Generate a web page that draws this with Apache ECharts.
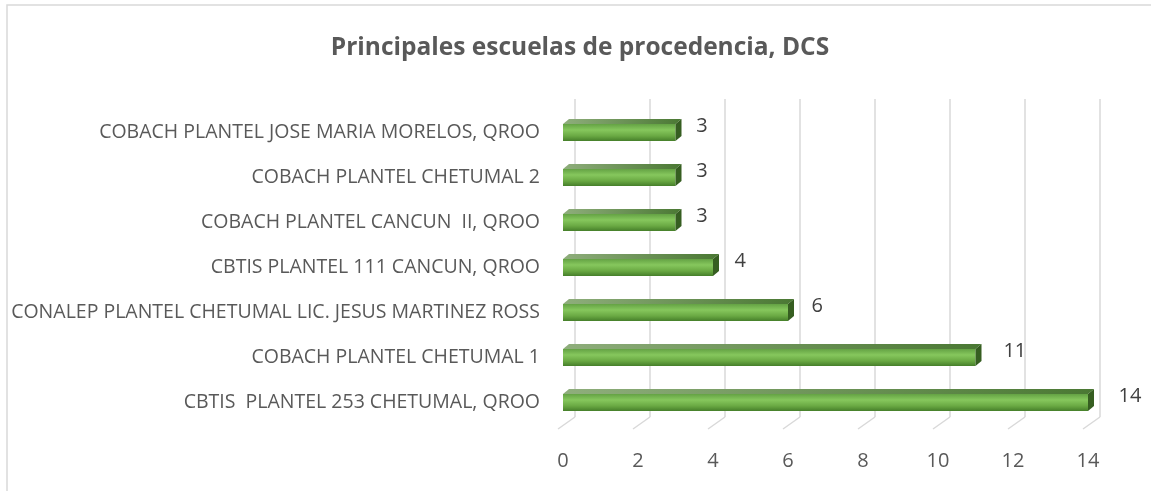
<!DOCTYPE html>
<html>
<head>
<meta charset="utf-8">
<script src="https://cdn.jsdelivr.net/npm/echarts@6/dist/echarts.min.js"></script>
<style>
  html, body { margin: 0; padding: 0; background: #fff; }
  #chart { width: 1151px; height: 491px; }
</style>
</head>
<body>
<div id="chart"></div>
<script>
'use strict';

// 数据
const schools = [
    'CBTIS  PLANTEL 253 CHETUMAL, QROO',
    'COBACH PLANTEL CHETUMAL 1',
    'CONALEP PLANTEL CHETUMAL LIC. JESUS MARTINEZ ROSS',
    'CBTIS PLANTEL 111 CANCUN, QROO',
    'COBACH PLANTEL CANCUN  II, QROO',
    'COBACH PLANTEL CHETUMAL 2',
    'COBACH PLANTEL JOSE MARIA MORELOS, QROO'
];
const students = [14, 11, 6, 4, 3, 3, 3];
const xTicks = [0, 2, 4, 6, 8, 10, 12, 14];

const textColor = '#595959';
const font = 'Open Sans';

// 3D 柱子
function renderBar(params, api) {
    const v = api.value(0);
    const c = api.value(1);
    const p0 = api.coord([0, c]);
    const p1 = api.coord([v, c]);
    const h = 17, dx = 6, dy = 5;
    const x0 = p0[0], x1 = p1[0], y0 = p1[1] - h / 2;
    // 标签偏移随透视略微增大
    const labelGap = 12 + (x1 - x0) / 37.5 * 0.9;
    return {
        type: 'group',
        children: [
            {
                type: 'polygon',
                shape: { points: [[x0, y0], [x1, y0], [x1 + dx, y0 - dy], [x0 + dx, y0 - dy]] },
                style: {
                    fill: new echarts.graphic.LinearGradient(0, 0, 1, 0, [
                        { offset: 0, color: '#8fae7c' },
                        { offset: 1, color: '#4a7833' }
                    ])
                }
            },
            {
                type: 'rect',
                shape: { x: x0, y: y0, width: x1 - x0, height: h },
                style: {
                    fill: new echarts.graphic.LinearGradient(0, 0, 0, 1, [
                        { offset: 0, color: '#64a244' },
                        { offset: 0.35, color: '#86c75d' },
                        { offset: 0.7, color: '#6aa943' },
                        { offset: 1, color: '#467f2a' }
                    ])
                }
            },
            {
                type: 'polygon',
                shape: { points: [[x1, y0], [x1 + dx, y0 - dy], [x1 + dx, y0 - dy + h], [x1, y0 + h]] },
                style: { fill: '#365e21' }
            },
            {
                type: 'text',
                style: {
                    text: String(v),
                    x: x1 + dx + labelGap,
                    y: p1[1] - 6,
                    verticalAlign: 'middle',
                    fill: '#404040',
                    fontSize: 20,
                    fontFamily: font
                }
            }
        ]
    };
}

// 底部斜线刻度
function renderTick(params, api) {
    const x = api.coord([api.value(0), 0])[0];
    const bottom = params.coordSys.y + params.coordSys.height;
    return {
        type: 'line',
        shape: { x1: x + 12, y1: bottom - 8, x2: x - 5, y2: bottom + 4 },
        style: { stroke: '#d9d9d9', lineWidth: 1.5 }
    };
}

const myChart = echarts.init(document.getElementById('chart'));

const option = {
    backgroundColor: '#fff',
    animation: false,
    title: {
        text: 'Principales escuelas de procedencia, DCS',
        left: 575,
        textAlign: 'center',
        top: 31,
        textStyle: { color: textColor, fontSize: 24.5, fontWeight: 'bold', fontFamily: font }
    },
    graphic: [{
        type: 'rect',
        shape: { x: 7, y: 5, width: 1170, height: 520 },
        style: { fill: 'none', stroke: '#d9d9d9', lineWidth: 1.5 },
        z: -1
    }],
    grid: [
        { left: 563, width: 525, top: 110, height: 315 },
        { left: 575, width: 525, top: 99, height: 318 }
    ],
    xAxis: [
        {
            type: 'value', gridIndex: 0, min: 0, max: 14, interval: 2,
            axisLine: { show: false }, axisTick: { show: false },
            splitLine: { show: false },
            axisLabel: { margin: 26, color: textColor, fontSize: 20, fontFamily: font }
        },
        {
            type: 'value', gridIndex: 1, min: 0, max: 14, interval: 2,
            axisLine: { show: false }, axisTick: { show: false },
            axisLabel: { show: false },
            splitLine: { lineStyle: { color: '#d9d9d9', width: 1.5 } }
        }
    ],
    yAxis: [
        {
            type: 'category', gridIndex: 0, data: schools,
            axisLine: { show: false }, axisTick: { show: false },
            axisLabel: { margin: 23, color: textColor, fontSize: 19.5, fontFamily: font }
        },
        {
            type: 'category', gridIndex: 1, data: schools,
            show: false
        }
    ],
    series: [
        {
            type: 'custom',
            xAxisIndex: 1, yAxisIndex: 1,
            data: [],
            renderItem: () => null
        },
        {
            type: 'custom',
            xAxisIndex: 0, yAxisIndex: 0,
            data: xTicks.map(v => [v]),
            encode: { x: 0 },
            renderItem: renderTick,
            z: 1
        },
        {
            type: 'custom',
            xAxisIndex: 0, yAxisIndex: 0,
            data: students.map((v, i) => [v, i]),
            encode: { x: 0, y: 1 },
            renderItem: renderBar,
            z: 2
        }
    ]
};

myChart.setOption(option);
</script>
</body>
</html>
